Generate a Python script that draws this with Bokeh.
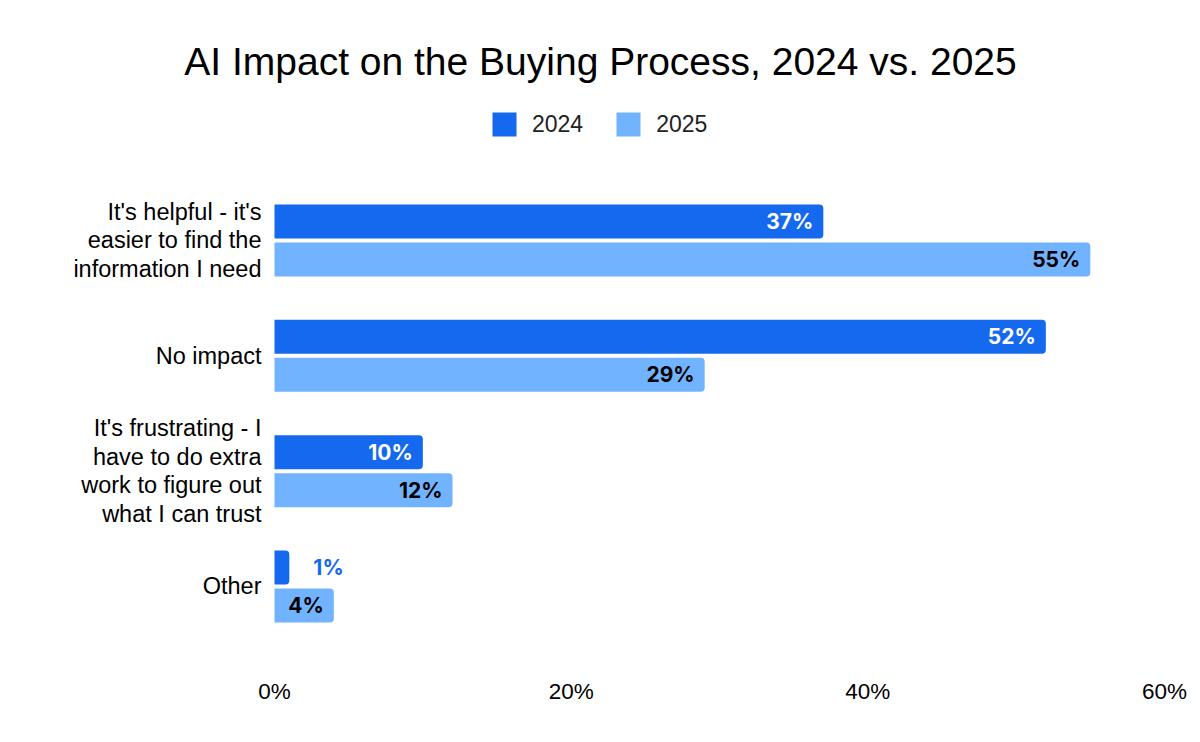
from bokeh.plotting import figure
from bokeh.models import ColumnDataSource, FixedTicker, Range1d, Label, Legend, LegendItem
from bokeh.core.properties import value
from bokeh.embed import file_html
from bokeh.resources import INLINE

title_text = "AI Impact on the Buying Process, 2024 vs. 2025"
categories = [
    "It's helpful - it's\neasier to find the\ninformation I need",
    "No impact",
    "It's frustrating - I\nhave to do extra\nwork to figure out\nwhat I can trust",
    "Other",
]
series_names = ["2024", "2025"]
values_2024 = [37, 52, 10, 1]
values_2025 = [55, 29, 12, 4]
x_ticks = [0, 20, 40, 60]
x_tick_labels = ["0%", "20%", "40%", "60%"]

C24 = "#1469EE"
C25 = "#71B3FE"
LABEL_FONT = "Liberation Sans"
DATA_FONT = "Inter"

# layout (pixels)
W, H = 1192, 734
FRAME_RIGHT = 1164
FRAME_BOTTOM = 670
ZERO_X = 274          # pixel of 0 %
GROUP_PX = 115.33     # pixels per category
FIRST_Y = 240         # pixel of first category centre

px_per_unit = (FRAME_RIGHT - ZERO_X) / 60.0
x_start = -ZERO_X / px_per_unit
y_top = 1 - FIRST_Y / GROUP_PX
y_bottom = 1 + (FRAME_BOTTOM - FIRST_Y) / GROUP_PX

pos = [i + 1 for i in range(len(categories))]
dodge = 19 / GROUP_PX
bar_h = 34 / GROUP_PX

src24 = ColumnDataSource(dict(y=[q - dodge for q in pos], v=values_2024))
src25 = ColumnDataSource(dict(y=[q + dodge for q in pos], v=values_2025,
                              txt=[f"{v}%" for v in values_2025]))

p = figure(width=W, height=H, title=None,
           x_range=Range1d(x_start, 60), y_range=Range1d(y_bottom, y_top),
           output_backend="svg", toolbar_location=None,
           min_border=0, min_border_left=0, min_border_right=W - FRAME_RIGHT,
           min_border_top=0, min_border_bottom=H - FRAME_BOTTOM)
p.outline_line_color = None
p.xgrid.grid_line_color = None
p.ygrid.grid_line_color = None
p.background_fill_color = "white"
p.border_fill_color = "white"
p.yaxis.visible = False

r24 = p.hbar(y="y", right="v", left=0, height=bar_h, source=src24,
             fill_color=C24, line_color=None, border_radius=(0, 4, 4, 0))
r25 = p.hbar(y="y", right="v", left=0, height=bar_h, source=src25,
             fill_color=C25, line_color=None, border_radius=(0, 4, 4, 0))

# data labels
threshold = 3
in24 = ColumnDataSource(dict(
    y=[y for y, v in zip(src24.data["y"], values_2024) if v >= threshold],
    v=[v for v in values_2024 if v >= threshold],
    txt=[f"{v}%" for v in values_2024 if v >= threshold]))
out24 = ColumnDataSource(dict(
    y=[y for y, v in zip(src24.data["y"], values_2024) if v < threshold],
    v=[v for v in values_2024 if v < threshold],
    txt=[f"{v}%" for v in values_2024 if v < threshold]))

lab_kw = dict(text_baseline="middle", text_font=value(DATA_FONT),
              text_font_style="bold", text_font_size="21px")
p.text(x="v", y="y", text="txt", source=in24, x_offset=-10,
       text_align="right", text_color="white", **lab_kw)
p.text(x="v", y="y", text="txt", source=out24, x_offset=24,
       text_align="left", text_color=C24, **lab_kw)
p.text(x="v", y="y", text="txt", source=src25, x_offset=-10,
       text_align="right", text_color="black", **lab_kw)

# category labels
cat_src = ColumnDataSource(dict(y=pos, txt=categories, x=[0] * len(pos)))
p.text(x="x", y="y", text="txt", source=cat_src, x_offset=-13,
       text_align="right", text_baseline="middle", text_color="black",
       text_font=value(LABEL_FONT), text_font_size="23.5px",
       text_line_height=1.1)

# x axis
p.xaxis.ticker = FixedTicker(ticks=x_ticks)
p.xaxis.major_label_overrides = {t: l for t, l in zip(x_ticks, x_tick_labels)}
ax = p.xaxis[0]
ax.axis_line_color = None
ax.major_tick_line_color = None
ax.minor_tick_line_color = None
ax.major_label_text_font = LABEL_FONT
ax.major_label_text_font_size = "22.5px"
ax.major_label_text_color = "black"
ax.major_label_standoff = 2

# title
p.add_layout(Label(x=600, y=FRAME_BOTTOM - 61, x_units="screen", y_units="screen",
                   text=title_text, text_align="center", text_baseline="alphabetic",
                   text_font=LABEL_FONT, text_font_size="39px", text_color="black"))

legend = Legend(items=[LegendItem(label=series_names[0], renderers=[r24]),
                       LegendItem(label=series_names[1], renderers=[r25])],
                location=(489, FRAME_BOTTOM - 139), orientation="horizontal",
                glyph_width=30, glyph_height=30, label_height=30,
                label_standoff=13, spacing=30, padding=0, margin=0,
                border_line_color=None, background_fill_alpha=0,
                label_text_font=LABEL_FONT, label_text_font_size="23px",
                label_text_color="#222222")
p.add_layout(legend, "center")

open("out.html", "w").write(file_html(p, INLINE))
